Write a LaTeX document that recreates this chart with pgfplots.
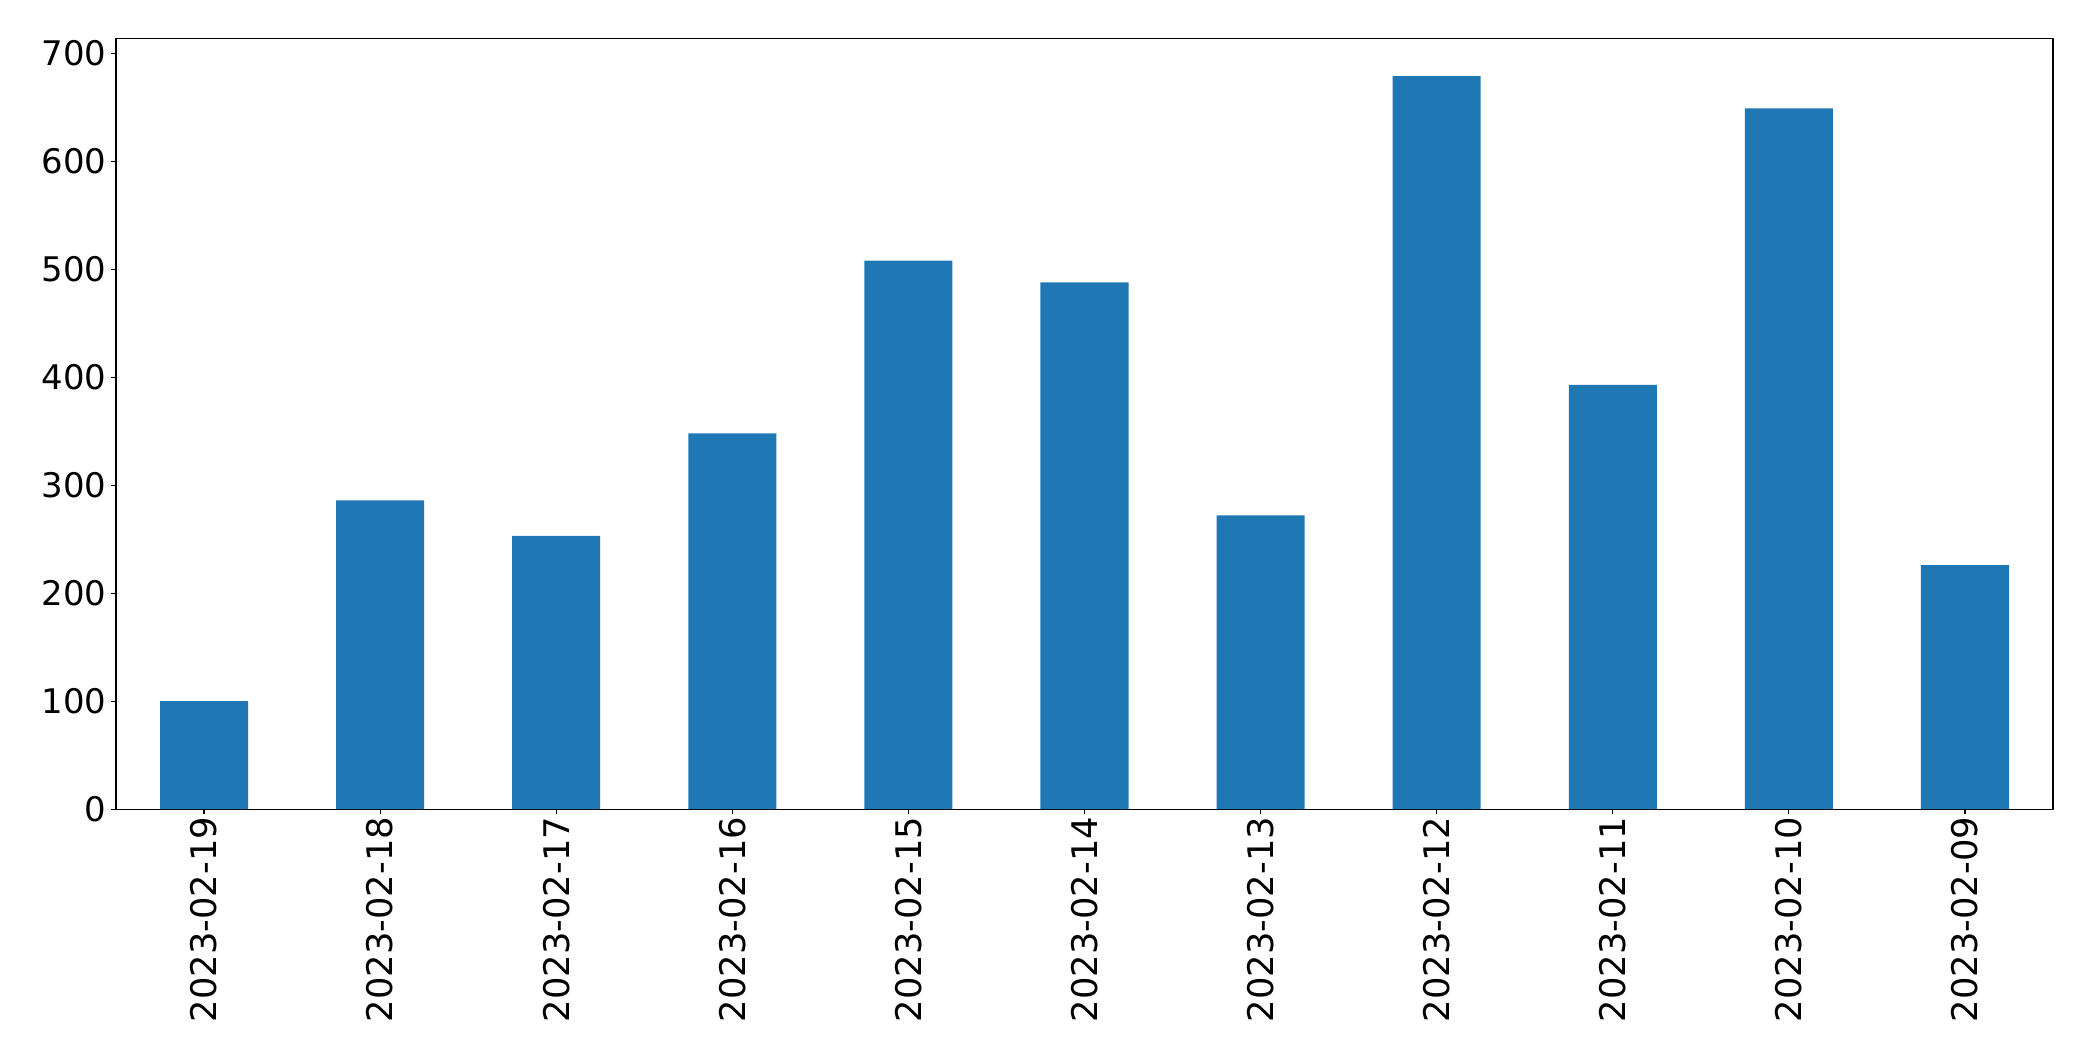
\documentclass[border=0pt]{standalone}
\usepackage{pgfplots}
\pgfplotsset{compat=1.18}
\usepackage{fontspec}
\setmainfont{DejaVu Sans}
\definecolor{tabblue}{HTML}{1F77B4}
\begin{document}
\begin{tikzpicture}
\begin{axis}[
  scale only axis,
  width=1394.6bp, height=554.6bp,
  xmin=-0.5, xmax=10.5,
  ymin=0, ymax=713.6,
  ybar, bar width=0.5, bar shift=0pt,
  xtick={0,...,10},
  xticklabels={2023-02-19,2023-02-18,2023-02-17,2023-02-16,2023-02-15,2023-02-14,2023-02-13,2023-02-12,2023-02-11,2023-02-10,2023-02-09},
  ytick={0,100,...,700},
  tick align=outside,
  tick pos=left,
  major tick length=3.5bp,
  every tick/.style={black, line width=0.8bp},
  axis line style={line width=0.8bp},
  /pgf/number format/assume math mode=true,
  yticklabel style={font=\fontsize{24.5}{29}\selectfont},
  xticklabel style={font=\fontsize{25.5}{30}\selectfont, rotate=90, anchor=east, inner xsep=2bp},
  xtick style={draw=black},
]
\addplot[fill=tabblue, draw=none] coordinates {
(0,100) (1,286) (2,253) (3,348) (4,508) (5,488) (6,272) (7,679) (8,393) (9,649) (10,226)
};
\end{axis}
\path[use as bounding box] ([shift={(-83.5bp,-181.4bp)}]current axis.south west) rectangle ([shift={(28.8bp,27.9bp)}]current axis.north east);
\end{tikzpicture}
\end{document}
